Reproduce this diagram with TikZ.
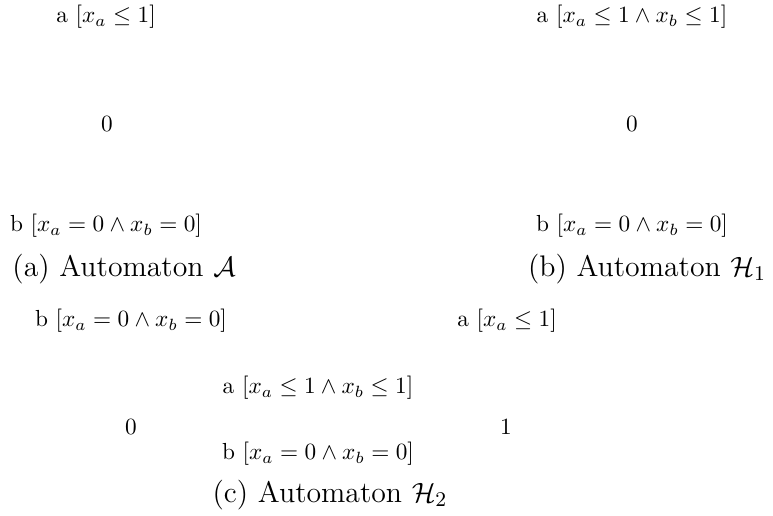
\documentclass[tikz,border=0pt]{standalone}
\usepackage{amsmath,amssymb}
\begin{document}
\begin{tikzpicture}[x=0.43pt,y=-0.43pt,
  lbl/.style={inner sep=0pt,font=\fontsize{10}{12}\selectfont},
  st/.style={inner sep=0pt,font=\fontsize{10}{12}\selectfont},
  capt/.style={inner sep=0pt,font=\fontsize{12.8}{15}\selectfont}]
\useasboundingbox (0,0) rectangle (773,515);
% (a)
\node[lbl] (Aa) at (106,17) {a $[x_a \leq 1]$};
\node[st] (A0) at (107,124) {0};
\node[lbl] (Ab) at (106,226) {b $[x_a = 0 \wedge x_b = 0]$};
\node[capt] (capA) at (124,269) {(a) Automaton $\mathcal{A}$};
% (b)
\node[lbl] (Ha) at (632,17) {a $[x_a \leq 1 \wedge x_b \leq 1]$};
\node[st] (H0) at (632,124) {0};
\node[lbl] (Hb) at (632,226) {b $[x_a = 0 \wedge x_b = 0]$};
\node[capt] (capB) at (647,269) {(b) Automaton $\mathcal{H}_1$};
% (c)
\node[lbl] (Cb0) at (131,321) {b $[x_a = 0 \wedge x_b = 0]$};
\node[lbl] (Ca1) at (507,321) {a $[x_a \leq 1]$};
\node[lbl] (Ca) at (318,388) {a $[x_a \leq 1 \wedge x_b \leq 1]$};
\node[st] (C0) at (131,427) {0};
\node[st] (C1) at (506,427) {1};
\node[lbl] (Cb) at (318,454) {b $[x_a = 0 \wedge x_b = 0]$};
\node[capt] (capC) at (330,495) {(c) Automaton $\mathcal{H}_2$};
\end{tikzpicture}
\end{document}
